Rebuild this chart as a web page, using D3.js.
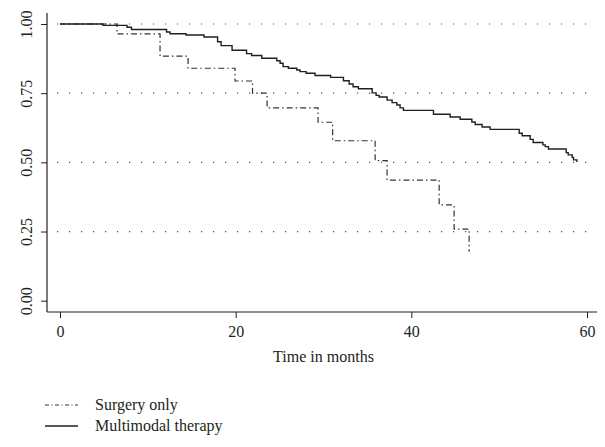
<!DOCTYPE html>
<html>
<head>
<meta charset="utf-8">
<script src="https://cdn.jsdelivr.net/npm/d3@7"></script>
<style>
body { margin: 0; background: #fff; }
text { font-family: "Liberation Serif", "DejaVu Serif", serif; fill: #231f20; }
</style>
</head>
<body>
<script>
var outerWidth = 605;
var outerHeight = 447;

// survival steps (months, proportion surviving)
var surgeryTime = [0, 6.49, 11.39, 14.58, 19.93, 21.92, 23.58, 29.38, 31.04, 35.88, 37.24, 43.17, 44.87, 46.58];
var surgerySurv = [1, 0.964, 0.884, 0.840, 0.794, 0.750, 0.697, 0.645, 0.578, 0.506, 0.436, 0.346, 0.259, 0.177];

var multiTime = [0, 4.90, 7.63, 8.14, 12.13, 12.53, 14.35, 16.40, 17.94, 18.34, 19.59, 21.24, 21.81, 22.97,
  24.68, 25.06, 25.40, 26.00, 26.96, 27.33, 28.02, 29.04, 30.81, 32.27, 32.92, 33.37, 33.97, 35.54,
  35.99, 36.33, 37.24, 37.81, 38.35, 38.72, 39.10, 42.52, 44.42, 45.56, 46.89, 47.27, 48.06, 48.97,
  52.28, 52.62, 53.53, 53.87, 54.98, 55.24, 55.61, 57.63, 57.86, 58.31, 58.46, 58.85];
var multiSurv = [1, 0.995, 0.988, 0.980, 0.971, 0.965, 0.960, 0.953, 0.936, 0.922, 0.905, 0.893, 0.886, 0.876,
  0.867, 0.858, 0.846, 0.840, 0.834, 0.828, 0.822, 0.814, 0.807, 0.795, 0.783, 0.773, 0.766, 0.751,
  0.742, 0.736, 0.725, 0.716, 0.707, 0.697, 0.688, 0.674, 0.664, 0.656, 0.646, 0.637, 0.628, 0.619,
  0.605, 0.596, 0.583, 0.572, 0.563, 0.557, 0.548, 0.535, 0.527, 0.518, 0.509, 0.501];

var xTicks = [0, 20, 40, 60];
var yTicks = [0, 0.25, 0.5, 0.75, 1];
var gridTicks = [0.25, 0.5, 0.75, 1];
var legendLabels = ['Surgery only', 'Multimodal therapy'];

var svg = d3.select('body').append('svg')
  .attr('width', outerWidth)
  .attr('height', outerHeight);

var x = d3.scaleLinear().domain([0, 60]).range([60, 587]);
var y = d3.scaleLinear().domain([0, 1]).range([300.7, 24]);

var axisX = 47, axisY = 312;

// dotted grid
svg.selectAll('.grid')
  .data(gridTicks)
  .enter()
  .append('line')
  .attr('class', 'grid')
  .attr('x1', 57).attr('x2', 595)
  .attr('y1', function(d){ return y(d); })
  .attr('y2', function(d){ return y(d); })
  .attr('stroke', '#555')
  .attr('stroke-width', 1.2)
  .attr('stroke-dasharray', '1.2,10.8');

// y axis
var gy = svg.append('g')
  .attr('transform', 'translate(' + axisX + ',0)')
  .call(d3.axisLeft(y).tickValues(yTicks).tickSize(6).tickSizeOuter(0).tickFormat(d3.format('.2f')));
gy.select('.domain').remove();
gy.selectAll('.tick line').attr('stroke', '#231f20');
gy.selectAll('.tick text')
  .attr('x', null).attr('dy', null)
  .attr('transform', 'translate(-15,0) rotate(-90)')
  .attr('text-anchor', 'middle')
  .style('font-size', '16px')
  .style('font-family', '"Liberation Serif", serif');
svg.append('line')
  .attr('x1', axisX).attr('x2', axisX)
  .attr('y1', 13).attr('y2', axisY)
  .attr('stroke', '#231f20').attr('stroke-width', 1.2);

// x axis
var gx = svg.append('g')
  .attr('transform', 'translate(0,' + axisY + ')')
  .call(d3.axisBottom(x).tickValues(xTicks).tickSize(6).tickSizeOuter(0));
gx.select('.domain').remove();
gx.selectAll('.tick line').attr('stroke', '#231f20');
gx.selectAll('.tick text')
  .attr('y', 14)
  .style('font-size', '16px')
  .style('font-family', '"Liberation Serif", serif');
svg.append('line')
  .attr('x1', axisX).attr('x2', 597)
  .attr('y1', axisY).attr('y2', axisY)
  .attr('stroke', '#231f20').attr('stroke-width', 1.2);

svg.append('text')
  .attr('x', (x(0) + x(60)) / 2)
  .attr('y', 362)
  .attr('text-anchor', 'middle')
  .style('font-size', '16px')
  .text('Time in months');

// curves
var line = d3.line()
  .x(function(d){ return x(d[0]); })
  .y(function(d){ return y(d[1]); })
  .curve(d3.curveStepAfter);

var surgery = d3.zip(surgeryTime, surgerySurv);
var multi = d3.zip(multiTime, multiSurv);

svg.append('path')
  .datum(surgery)
  .attr('d', line)
  .attr('fill', 'none')
  .attr('stroke', '#333')
  .attr('stroke-width', 1.2)
  .attr('stroke-dasharray', '6,3,1.5,3');

svg.append('path')
  .datum(multi)
  .attr('d', line)
  .attr('fill', 'none')
  .attr('stroke', '#231f20')
  .attr('stroke-width', 1.4);

// legend
var legend = svg.selectAll('.legend')
  .data(legendLabels)
  .enter()
  .append('g')
  .attr('class', 'legend')
  .attr('transform', function(d, i){ return 'translate(45,' + (405 + i * 21) + ')'; });

legend.append('line')
  .attr('x1', 0).attr('x2', 33)
  .attr('stroke', function(d, i){ return i === 0 ? '#333' : '#231f20'; })
  .attr('stroke-width', function(d, i){ return i === 0 ? 1 : 1.3; })
  .attr('stroke-dasharray', function(d, i){ return i === 0 ? '4,2.5,1,2.5' : null; });

legend.append('text')
  .attr('x', 50)
  .attr('y', 5)
  .style('font-size', '16px')
  .text(function(d){ return d; });
</script>
</body>
</html>
